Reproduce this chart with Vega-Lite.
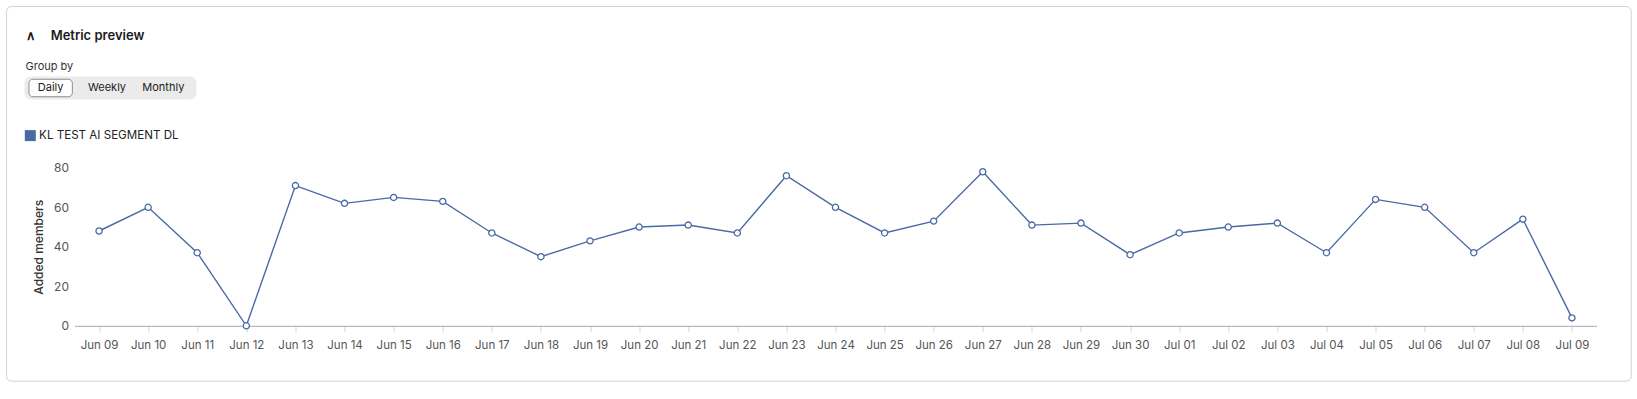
{
  "$schema": "https://vega.github.io/schema/vega-lite/v6.json",
  "background": "white",
  "padding": {"left": 5.5, "top": 5.5, "right": 5, "bottom": 5},
  "spacing": 68.3,
  "bounds": "flush",
  "resolve": {"scale": {"color": "independent"}},
  "config": {
    "font": "Inter",
    "view": {"stroke": null}
  },
  "vconcat": [
    {
      "width": 172,
      "height": 23,
      "title": {
        "text": "∧\u2003\u2009Metric preview",
        "subtitle": "Group by",
        "anchor": "start",
        "frame": "bounds",
        "dx": 1,
        "font": "Inter",
        "fontSize": 13,
        "fontWeight": 600,
        "color": "#1a1a1a",
        "subtitleFont": "Inter",
        "subtitleFontSize": 11,
        "subtitleFontWeight": 400,
        "subtitleColor": "#333",
        "subtitlePadding": 17.6,
        "offset": 5
      },
      "data": {"values": [
        {"period": "Daily", "selected": true},
        {"period": "Weekly", "selected": false},
        {"period": "Monthly", "selected": false}
      ]},
      "resolve": {"scale": {"x": "independent"}},
      "layer": [
        {
          "transform": [{"filter": "datum.selected"}],
          "mark": {"type": "rect", "fill": "#ebebeb", "cornerRadius": 7},
          "encoding": {
            "x": {"datum": 0, "type": "quantitative", "scale": {"domain": [0, 1], "range": [-50, 122], "nice": false, "zero": false}, "axis": null},
            "x2": {"datum": 1},
            "y": {"datum": 0, "type": "quantitative", "scale": {"domain": [0, 1], "nice": false, "zero": false}, "axis": null},
            "y2": {"datum": 1}
          }
        },
        {
          "transform": [{"filter": "datum.selected"}],
          "mark": {"type": "bar", "fill": "white", "stroke": "#8c8c8c", "strokeWidth": 1, "cornerRadius": 4, "width": {"band": 0.77}},
          "encoding": {
            "x": {"field": "period", "type": "nominal", "sort": null, "scale": {"domain": ["Daily", "Weekly", "Monthly"], "range": [-52, 117], "paddingInner": 0, "paddingOuter": 0}, "axis": null},
            "y": {"datum": 0.12, "type": "quantitative"},
            "y2": {"datum": 0.88}
          }
        },
        {
          "mark": {"type": "text", "fontSize": 11, "color": "#222", "font": "Inter"},
          "encoding": {
            "x": {"field": "period", "type": "nominal", "sort": null, "scale": {"domain": ["Daily", "Weekly", "Monthly"], "range": [-52, 117], "paddingInner": 0, "paddingOuter": 0}, "axis": null},
            "text": {"field": "period"}
          }
        }
      ]
    },
    {
      "width": 1522,
      "height": 158,
      "resolve": {"scale": {"x": "independent", "y": "independent"}},
      "layer": [
        {
          "data": {"values": [{"card": "Metric preview"}]},
          "mark": {"type": "rect", "fill": null, "fillOpacity": 0, "stroke": "#d2d2d2", "strokeWidth": 1, "cornerRadius": 5},
          "encoding": {
            "x": {"datum": 0, "type": "quantitative", "scale": {"domain": [0, 1], "range": [-68, 1556.7], "nice": false, "zero": false}, "axis": null},
            "x2": {"datum": 1},
            "y": {"datum": 0, "type": "quantitative", "scale": {"domain": [0, 1], "range": [213.4, -161.3], "nice": false, "zero": false}, "axis": null},
            "y2": {"datum": 1}
          }
        },
        {
          "data": {"values": [
            {"day": "Jun 09", "members": 48, "segment": "KL TEST AI SEGMENT DL"},
            {"day": "Jun 10", "members": 60, "segment": "KL TEST AI SEGMENT DL"},
            {"day": "Jun 11", "members": 37, "segment": "KL TEST AI SEGMENT DL"},
            {"day": "Jun 12", "members": 0, "segment": "KL TEST AI SEGMENT DL"},
            {"day": "Jun 13", "members": 71, "segment": "KL TEST AI SEGMENT DL"},
            {"day": "Jun 14", "members": 62, "segment": "KL TEST AI SEGMENT DL"},
            {"day": "Jun 15", "members": 65, "segment": "KL TEST AI SEGMENT DL"},
            {"day": "Jun 16", "members": 63, "segment": "KL TEST AI SEGMENT DL"},
            {"day": "Jun 17", "members": 47, "segment": "KL TEST AI SEGMENT DL"},
            {"day": "Jun 18", "members": 35, "segment": "KL TEST AI SEGMENT DL"},
            {"day": "Jun 19", "members": 43, "segment": "KL TEST AI SEGMENT DL"},
            {"day": "Jun 20", "members": 50, "segment": "KL TEST AI SEGMENT DL"},
            {"day": "Jun 21", "members": 51, "segment": "KL TEST AI SEGMENT DL"},
            {"day": "Jun 22", "members": 47, "segment": "KL TEST AI SEGMENT DL"},
            {"day": "Jun 23", "members": 76, "segment": "KL TEST AI SEGMENT DL"},
            {"day": "Jun 24", "members": 60, "segment": "KL TEST AI SEGMENT DL"},
            {"day": "Jun 25", "members": 47, "segment": "KL TEST AI SEGMENT DL"},
            {"day": "Jun 26", "members": 53, "segment": "KL TEST AI SEGMENT DL"},
            {"day": "Jun 27", "members": 78, "segment": "KL TEST AI SEGMENT DL"},
            {"day": "Jun 28", "members": 51, "segment": "KL TEST AI SEGMENT DL"},
            {"day": "Jun 29", "members": 52, "segment": "KL TEST AI SEGMENT DL"},
            {"day": "Jun 30", "members": 36, "segment": "KL TEST AI SEGMENT DL"},
            {"day": "Jul 01", "members": 47, "segment": "KL TEST AI SEGMENT DL"},
            {"day": "Jul 02", "members": 50, "segment": "KL TEST AI SEGMENT DL"},
            {"day": "Jul 03", "members": 52, "segment": "KL TEST AI SEGMENT DL"},
            {"day": "Jul 04", "members": 37, "segment": "KL TEST AI SEGMENT DL"},
            {"day": "Jul 05", "members": 64, "segment": "KL TEST AI SEGMENT DL"},
            {"day": "Jul 06", "members": 60, "segment": "KL TEST AI SEGMENT DL"},
            {"day": "Jul 07", "members": 37, "segment": "KL TEST AI SEGMENT DL"},
            {"day": "Jul 08", "members": 54, "segment": "KL TEST AI SEGMENT DL"},
            {"day": "Jul 09", "members": 4, "segment": "KL TEST AI SEGMENT DL"}
          ]},
          "mark": {
            "type": "line",
            "strokeWidth": 1.4,
            "point": {"filled": false, "fill": "white", "size": 38, "strokeWidth": 1.3}
          },
          "encoding": {
            "x": {
              "field": "day", "type": "ordinal", "sort": null,
              "scale": {"type": "point", "padding": 0.5},
              "axis": {"title": null, "labelAngle": 0, "labelFont": "Inter", "labelFontSize": 11.5, "labelColor": "#555", "labelPadding": 8, "tickColor": "#d6d6d6", "tickSize": 6, "domainColor": "#a8a8a8", "domainWidth": 1, "grid": false}
            },
            "y": {
              "field": "members", "type": "quantitative",
              "scale": {"domain": [0, 80], "nice": false},
              "axis": {"title": "Added members", "titleFont": "Inter", "titleFontSize": 12, "titleFontWeight": 500, "titleColor": "#333", "titlePadding": 8, "values": [0, 20, 40, 60, 80], "labelFont": "Inter", "labelFontSize": 12, "labelColor": "#555", "labelPadding": 6, "ticks": false, "domain": false, "gridColor": "#dcdcdc", "gridWidth": 1}
            },
            "color": {
              "field": "segment", "type": "nominal",
              "scale": {"range": ["#4a6aa5"]},
              "legend": {"title": null, "orient": "none", "legendX": -50, "legendY": -38, "symbolType": "square", "symbolSize": 16, "symbolStrokeWidth": 7, "symbolStrokeColor": "#4a72c4", "labelFont": "Inter", "labelFontSize": 11.6, "labelColor": "#222", "labelOffset": 3, "padding": 0}
            }
          }
        }
      ]
    }
  ]
}
